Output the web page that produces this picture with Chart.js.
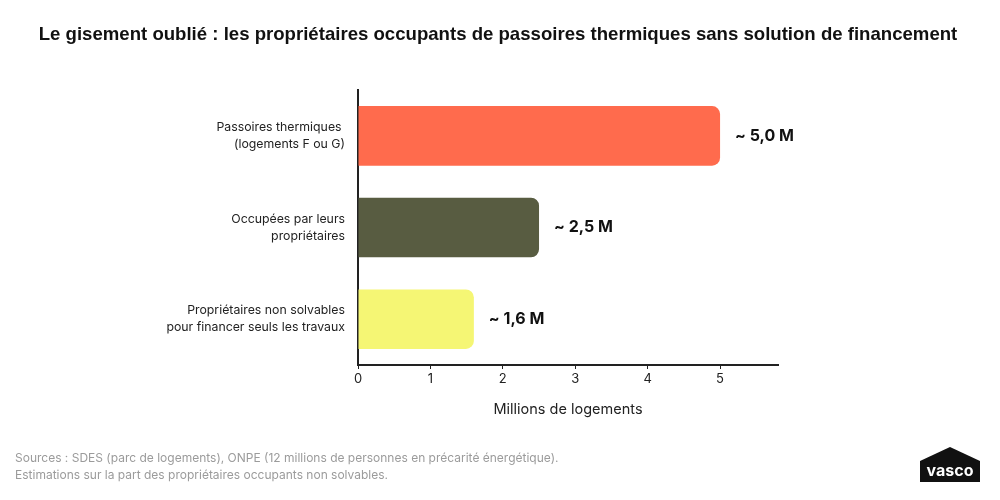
<!DOCTYPE html>
<html>
<head>
<meta charset="utf-8">
<script src="https://cdn.jsdelivr.net/npm/chart.js@4"></script>
<style>
  html, body { margin: 0; padding: 0; background: #fff; }
  #wrap { width: 1000px; height: 500px; }
</style>
</head>
<body>
<div id="wrap"><canvas id="chart" width="1000" height="500"></canvas></div>
<script>
// data
var categories = [
	["Passoires thermiques ", "(logements F ou G)"],
	["Occupées par leurs", "propriétaires"],
	["Propriétaires non solvables", "pour financer seuls les travaux"]
];
var values = [5.0, 2.5, 1.6];
var valueLabels = ["~ 5,0 M", "~ 2,5 M", "~ 1,6 M"];
var barColors = ["#FF6B4D", "#585C41", "#F5F674"];
var xTicks = [0, 1, 2, 3, 4, 5];
var titleText = "Le gisement oublié : les propriétaires occupants de passoires thermiques sans solution de financement";
var xTitle = "Millions de logements";
var sourceLines = [
	"Sources : SDES (parc de logements), ONPE (12 millions de personnes en précarité énergétique).",
	"Estimations sur la part des propriétaires occupants non solvables."
];

// title, value labels next to each bar, footer and logo
var extras = {
	id : "extras",
	afterDatasetsDraw : function(chart) {
		var ctx = chart.ctx;
		var meta = chart.getDatasetMeta(0);
		ctx.save();
		ctx.fillStyle = "#111";
		ctx.font = "bold 16px Inter";
		ctx.textAlign = "left";
		ctx.textBaseline = "middle";
		meta.data.forEach(function(bar, i) {
			ctx.fillText(valueLabels[i], bar.x + 15, bar.y);
		});
		ctx.restore();
	},
	afterDraw : function(chart) {
		var ctx = chart.ctx;
		ctx.save();
		ctx.fillStyle = "#111";
		ctx.font = "bold 18.6px 'Liberation Sans'";
		ctx.textAlign = "center";
		ctx.textBaseline = "middle";
		ctx.fillText(titleText, 498, 35);

		ctx.fillStyle = "#9b9b9b";
		ctx.font = "12px Inter";
		ctx.textAlign = "left";
		ctx.fillText(sourceLines[0], 15, 458);
		ctx.fillText(sourceLines[1], 15, 475);

		// vasco logo
		ctx.fillStyle = "#111";
		ctx.beginPath();
		ctx.moveTo(920, 461);
		ctx.lineTo(950, 447);
		ctx.lineTo(980, 461);
		ctx.lineTo(980, 482);
		ctx.lineTo(920, 482);
		ctx.closePath();
		ctx.fill();
		ctx.fillStyle = "#fff";
		ctx.font = "bold 16px Inter";
		ctx.textAlign = "center";
		ctx.fillText("vasco", 950, 471);
		ctx.restore();
	}
};

var ctx = document.getElementById("chart");

var chart = new Chart(ctx, {
	type : "bar",
	data : {
		labels : categories,
		datasets : [{
			data : values,
			backgroundColor : barColors,
			borderRadius : 8,
			borderSkipped : "start",
			barPercentage : 0.65,
			categoryPercentage : 1
		}]
	},
	options : {
		indexAxis : "y",
		responsive : false,
		animation : false,
		devicePixelRatio : 1,
		layout : {
			padding : { left : 0, right : 222, top : 90, bottom : 82 }
		},
		plugins : {
			legend : { display : false },
			tooltip : { enabled : false },
			title : { display : false }
		},
		scales : {
			x : {
				min : 0,
				max : 5.8,
				afterBuildTicks : function(scale) {
					scale.ticks = xTicks.map(function(v) { return { value : v }; });
				},
				grid : {
					display : true,
					drawOnChartArea : false,
					drawTicks : true,
					tickLength : 4,
					color : "#222"
				},
				border : { display : true, color : "#222", width : 2 },
				ticks : {
					color : "#222",
					padding : 2,
					font : { family : "Inter", size : 13 }
				},
				title : {
					display : true,
					text : xTitle,
					color : "#222",
					font : { family : "Inter", size : 14.5 },
					padding : { top : 12, bottom : 0 }
				}
			},
			y : {
				afterFit : function(scale) { scale.width = 358; },
				grid : { display : false },
				border : { display : true, color : "#222", width : 2 },
				ticks : {
					color : "#222",
					padding : 5,
					font : { family : "Inter", size : 12.3, lineHeight : 1.4 }
				}
			}
		}
	},
	plugins : [extras]
});
</script>
</body>
</html>
